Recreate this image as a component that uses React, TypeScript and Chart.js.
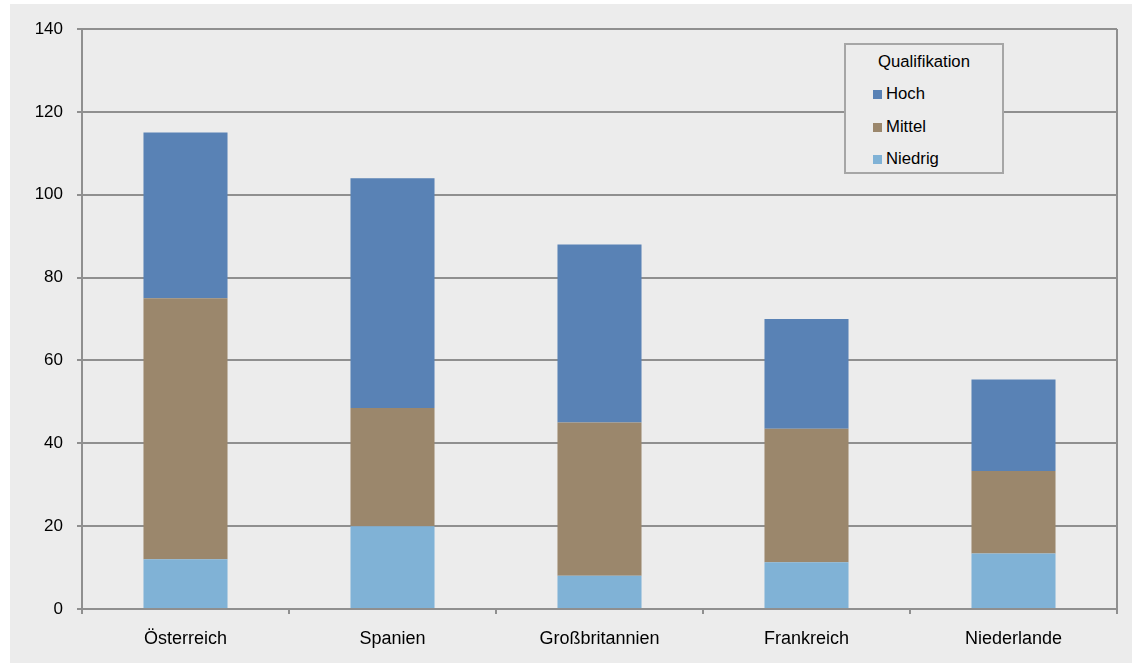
import React, { useEffect, useRef } from "react";
import { Chart, registerables } from "chart.js";
Chart.register(...registerables);

const categories = ["Österreich", "Spanien", "Großbritannien", "Frankreich", "Niederlande"];
const niedrig = [12, 20, 8, 11.3, 13.4];
const mittel = [63, 28.5, 37, 32.2, 19.9];
const hoch = [40, 55.5, 43, 26.5, 22.1];
const legendTitle = "Qualifikation";
const legendNames = ["Hoch", "Mittel", "Niedrig"];
const colors = { Hoch: "#5982b5", Mittel: "#9b876c", Niedrig: "#80b2d6" };
const yMax = 140;
const yStep = 20;

const FONT = "'Liberation Sans', Arial, sans-serif";
const GRID = "#8f8f8f";

const frame = {
  id: "frame",
  afterDraw(chart: any) {
    const { ctx, chartArea } = chart;
    ctx.save();
    ctx.strokeStyle = GRID;
    ctx.lineWidth = 2;
    ctx.beginPath();
    ctx.moveTo(chartArea.right, chartArea.top);
    ctx.lineTo(chartArea.right, chartArea.bottom);
    ctx.stroke();
    ctx.restore();
  },
};

export default function App() {
  const ref = useRef<HTMLCanvasElement>(null);
  useEffect(() => {
    const chart = new Chart(ref.current!, {
      type: "bar",
      data: {
        labels: categories,
        datasets: [
          { label: "Niedrig", data: niedrig, backgroundColor: colors.Niedrig, borderWidth: 0 },
          { label: "Mittel", data: mittel, backgroundColor: colors.Mittel, borderWidth: 0 },
          { label: "Hoch", data: hoch, backgroundColor: colors.Hoch, borderWidth: 0 },
        ],
      },
      options: {
        responsive: false,
        animation: false,
        layout: { padding: { top: 25, right: 15, left: 0, bottom: 0 } },
        datasets: { bar: { barPercentage: 0.406, categoryPercentage: 1 } },
        plugins: { legend: { display: false }, tooltip: { enabled: false } },
        scales: {
          x: {
            stacked: true,
            afterFit: (s: any) => { s.height = 54; },
            grid: { drawOnChartArea: false, drawTicks: true, tickLength: 5, color: GRID, lineWidth: 2, offset: true },
            border: { color: GRID, width: 2 },
            ticks: { color: "#000", padding: 14, font: { family: FONT, size: 18 } },
          },
          y: {
            stacked: true,
            min: 0,
            max: yMax,
            afterFit: (s: any) => { s.width = 72; },
            grid: { color: GRID, lineWidth: 2, tickLength: 5 },
            border: { color: GRID, width: 2 },
            ticks: { stepSize: yStep, color: "#000", padding: 14, font: { family: FONT, size: 17 } },
          },
        },
      },
      plugins: [frame],
    } as any);
    return () => chart.destroy();
  }, []);

  return (
    <div style={{ position: "absolute", left: 10, top: 4, width: 1122, height: 659, background: "#ececec" }}>
      <canvas ref={ref} width={1122} height={659} style={{ display: "block" }} />
      <div
        style={{
          position: "absolute", left: 834, top: 39, width: 156, height: 127,
          border: "2px solid #a6a6a6", background: "#ececec",
          fontFamily: FONT, fontSize: 16.7, color: "#000",
        }}
      >
        <div style={{ position: "absolute", left: 0, right: 0, top: 7, textAlign: "center", lineHeight: "20px" }}>{legendTitle}</div>
        {legendNames.map((n, i) => (
          <div key={n} style={{ position: "absolute", left: 27, top: [39, 72, 104][i], display: "flex", alignItems: "center", lineHeight: "20px" }}>
            <span style={{ display: "inline-block", width: 9, height: 9, background: (colors as any)[n], marginRight: 4 }} />
            <span>{n}</span>
          </div>
        ))}
      </div>
    </div>
  );
}
